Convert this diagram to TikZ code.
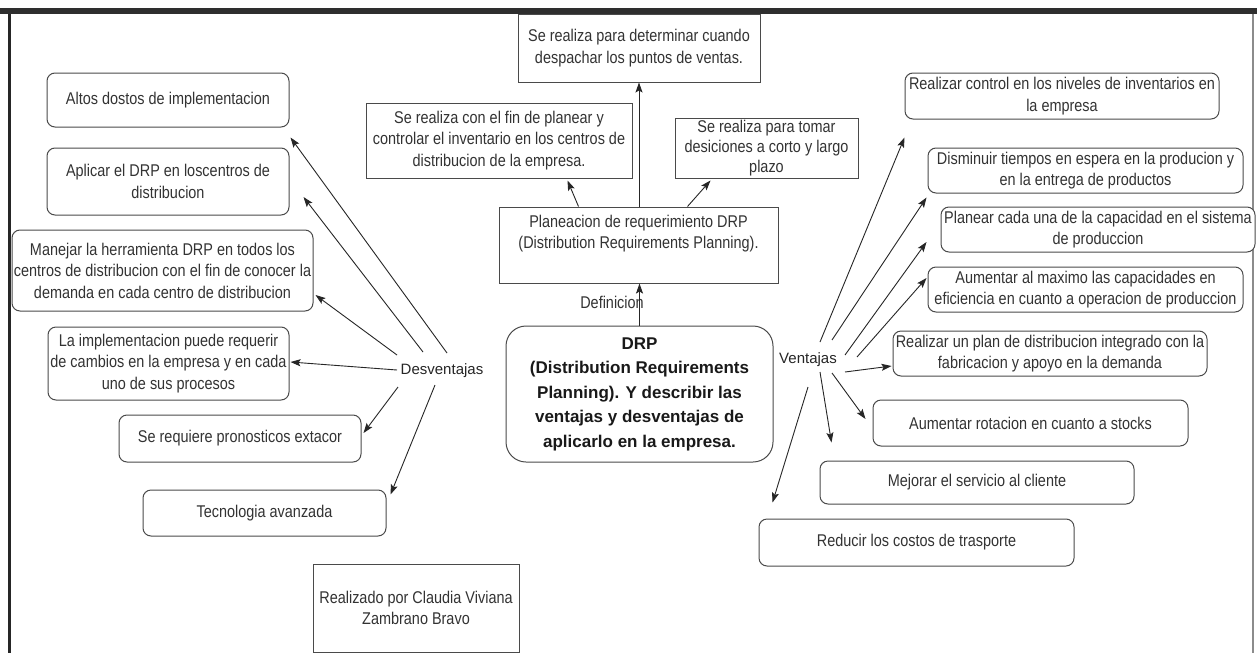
\documentclass[tikz,border=0pt]{standalone}
\usepackage{fontspec}
\usetikzlibrary{arrows.meta,calc}
\newfontfamily\boxfont[FakeStretch=0.85]{Liberation Sans}
\newfontfamily\labfont{Liberation Sans}
\definecolor{inkgray}{HTML}{333333}
\definecolor{edgegray}{HTML}{4A4A4A}
\begin{document}
\begin{tikzpicture}[x=1pt,y=-1pt,
  txt/.style={font=\boxfont\fontsize{17}{21.5}\selectfont, text=inkgray, align=center},
  rbox/.style={txt, draw=edgegray, line width=1pt, rounded corners=8pt, fill=white, inner sep=0pt},
  sbox/.style={txt, draw=edgegray, line width=1pt, fill=white, inner sep=0pt},
  lab/.style={font=\labfont\fontsize{15}{18}\selectfont, text=black!85, inner sep=0pt},
  link/.style={draw=black!85, line width=0.9pt, -{Stealth[length=10pt,width=7pt,inset=2pt]}}]
\useasboundingbox (0,0) rectangle (1257,653);
% frame
\fill[white] (0,0) rectangle (1257,653);
\fill[black!82] (0,8) rectangle (1257,14);
\fill[black!85] (8,14) rectangle (11,653);
\draw[black!45, line width=1.5pt] (1253,14) -- (1253,653);

% central topic
\node[draw=edgegray, line width=1pt, rounded corners=20pt, fill=white, inner sep=0pt,
      minimum width=267pt, minimum height=136pt, align=center, text=black!90,
      font=\labfont\bfseries\fontsize{17}{24.5}\selectfont] (ctr) at (639.5,394)
  {DRP\\(Distribution Requirements\\Planning). Y describir las\\ventajas y desventajas de\\aplicarlo en la empresa.};

% definition branch
\node[sbox, minimum width=279pt, minimum height=76pt] (plan) at (638.5,245) {};
\node[txt, inner sep=0pt] (plantxt) at ($(plan.center)+(0,-11.5)$)
  {Planeacion de requerimiento DRP\\(Distribution Requirements Planning).};
\node[sbox, minimum width=242pt, minimum height=68pt] (top) at (639,48)
  {Se realiza para determinar cuando\\despachar los puntos de ventas.};
\node[sbox, minimum width=266pt, minimum height=75pt] (tl) at (499,140.5)
  {Se realiza con el fin de planear y\\controlar el inventario en los centros de\\distribucion de la empresa.};
\node[sbox, minimum width=183pt, minimum height=60pt, font=\boxfont\fontsize{17}{20}\selectfont] (tr) at (766.5,148)
  {Se realiza para tomar\\desiciones a corto y largo\\plazo};
\node[txt, inner sep=0pt] (defi) at (612,302) {Definicion};

% disadvantages
\node[lab] (des) at (442,371) {Desventajas};
\node[rbox, minimum width=242pt, minimum height=54pt] (l1) at (168,100) {Altos dostos de implementacion};
\node[rbox, minimum width=242pt, minimum height=67pt] (l2) at (168,181.5) {Aplicar el DRP en loscentros de\\distribucion};
\node[rbox, minimum width=301pt, minimum height=81pt] (l3) at (162.5,270.5)
  {Manejar la herramienta DRP en todos los\\centros de distribucion con el fin de conocer la\\demanda en cada centro de distribucion};
\node[rbox, minimum width=241pt, minimum height=73pt] (l4) at (168.5,363.5)
  {La implementacion puede requerir\\de cambios en la empresa y en cada\\uno de sus procesos};
\node[rbox, minimum width=242pt, minimum height=47pt] (l5) at (240,438.5) {Se requiere pronosticos extacor};
\node[rbox, minimum width=243pt, minimum height=46pt] (l6) at (264.5,513) {Tecnologia avanzada};
\node[sbox, minimum width=206pt, minimum height=88pt] (auth) at (416,608)
  {Realizado por Claudia Viviana\\Zambrano Bravo};

% advantages
\node[lab] (ven) at (808,360) {Ventajas};
\node[rbox, minimum width=314pt, minimum height=46pt] (r1) at (1062,96)
  {Realizar control en los niveles de inventarios en\\la empresa};
\node[rbox, minimum width=315pt, minimum height=45pt] (r2) at (1085.5,170.5)
  {Disminuir tiempos en espera en la producion y\\en la entrega de productos};
\node[rbox, minimum width=314pt, minimum height=45pt] (r3) at (1098,229.5)
  {Planear cada una de la capacidad en el sistema\\de produccion};
\node[rbox, minimum width=315pt, minimum height=45pt] (r4) at (1085.5,289.5)
  {Aumentar al maximo las capacidades en\\eficiencia en cuanto a operacion de produccion};
\node[rbox, minimum width=314pt, minimum height=45pt] (r5) at (1050,353.5)
  {Realizar un plan de distribucion integrado con la\\fabricacion y apoyo en la demanda};
\node[rbox, minimum width=315pt, minimum height=46pt] (r6) at (1030.5,423) {Aumentar rotacion en cuanto a stocks};
\node[rbox, minimum width=314pt, minimum height=43pt] (r7) at (977,482.5) {Mejorar el servicio al cliente};
\node[rbox, minimum width=315pt, minimum height=47pt] (r8) at (916.5,542.5) {Reducir los costos de trasporte};

% definition connectors
\draw[link] (ctr.north) -- (ctr.north |- plan.south);
\draw[link] (plan.north -| top.south) -- (top.south);
\coordinate (pa) at ($(plan.north west)+(80,0)$);
\coordinate (pb) at ($(plan.north west)+(189,0)$);
\coordinate (ta) at ($(tl.south east)+(-65,2)$);
\coordinate (tb) at ($(tr.south west)+(36,2)$);
\draw[link] (pa) -- (ta);
\draw[link] (pb) -- (tb);

% disadvantage connectors
\coordinate (d1) at ($(des.center)+(5,-18)$);
\coordinate (d2) at ($(des.center)+(-19,-19)$);
\coordinate (d3) at ($(des.center)+(-45,-16)$);
\coordinate (d4) at ($(des.center)+(-45,-1)$);
\coordinate (d5) at ($(des.center)+(-44,16)$);
\coordinate (d6) at ($(des.center)+(-7,14)$);
\coordinate (e1) at ($(l1.south east)+(1,10)$);
\coordinate (e2) at ($(l2.east)+(14,15.5)$);
\coordinate (e3) at ($(l3.east)+(2,24.5)$);
\coordinate (e4) at ($(l4.east)+(1,-1.5)$);
\coordinate (e5) at ($(l5.east)+(2,-5.5)$);
\coordinate (e6) at ($(l6.north east)+(4,5)$);
\foreach \i in {1,...,6} {\draw[link] (d\i) -- (e\i);}

% advantage connectors
\coordinate (s1) at ($(ven.center)+(12,-18)$);
\coordinate (s2) at ($(ven.center)+(24,-20)$);
\coordinate (s3) at ($(ven.center)+(37,-5)$);
\coordinate (s4) at ($(ven.center)+(49,-3)$);
\coordinate (s5) at ($(ven.center)+(37,12)$);
\coordinate (s6) at ($(ven.center)+(24,13)$);
\coordinate (s7) at ($(ven.center)+(12,12)$);
\coordinate (s8) at ($(ven.center)+(0,27)$);
\coordinate (f1) at ($(r1.south west)+(0,18)$);
\coordinate (f2) at ($(r2.south west)+(-1,4)$);
\coordinate (f3) at ($(r3.west)+(-14,12.5)$);
\coordinate (f4) at ($(r4.west)+(-1,-11.5)$);
\coordinate (f5) at ($(r5.west)+(-1,12.5)$);
\coordinate (f6) at ($(r6.west)+(-7,-4)$);
\coordinate (f7) at ($(r7.north west)+(12,-18)$);
\coordinate (f8) at ($(r8.north west)+(14,-16)$);
\foreach \i in {1,...,8} {\draw[link] (s\i) -- (f\i);}
\end{tikzpicture}
\end{document}
